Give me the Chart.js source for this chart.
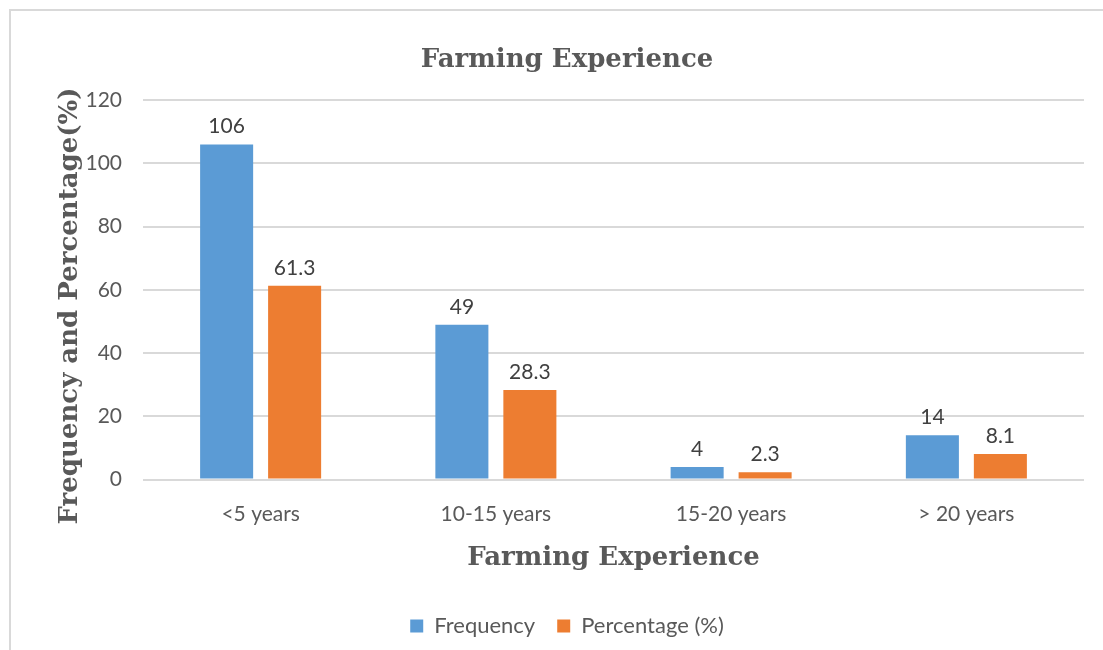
<!DOCTYPE html>
<html>
<head>
<meta charset="utf-8">
<title>Farming Experience</title>
<script src="https://cdn.jsdelivr.net/npm/chart.js@4.4.1/dist/chart.umd.min.js"></script>
<style>
  html, body { margin: 0; padding: 0; background: #fff; }
  #wrap { position: relative; width: 1103px; height: 650px; overflow: hidden; }
  #frame {
    position: absolute; left: 9px; top: 9px; width: 1100px; height: 650px;
    border-left: 2px solid #d9d9d9; border-top: 2px solid #d9d9d9;
    box-sizing: border-box; pointer-events: none;
  }
  canvas { position: absolute; left: 0; top: 0; }
</style>
</head>
<body>
<div id="wrap">
  <canvas id="chart" width="1103" height="650"></canvas>
  <div id="frame"></div>
</div>
<script>
// categories and series
const categories = ['<5 years', '10-15 years', '15-20 years', '> 20 years'];
const frequency = [106, 49, 4, 14];
const percentage = [61.3, 28.3, 2.3, 8.1];
const yTicks = [0, 20, 40, 60, 80, 100, 120];

const GREY = '#595959';
const SERIF = '"DejaVu Serif", serif';
const SANS = 'Lato, "Open Sans", sans-serif';

// value labels above each bar
const valueLabels = {
  id: 'valueLabels',
  afterDatasetsDraw(chart) {
    const ctx = chart.ctx;
    ctx.save();
    ctx.font = '21px ' + SANS;
    ctx.fillStyle = '#404040';
    ctx.textAlign = 'center';
    ctx.textBaseline = 'alphabetic';
    chart.data.datasets.forEach((ds, i) => {
      chart.getDatasetMeta(i).data.forEach((bar, j) => {
        ctx.fillText(String(ds.data[j]), bar.x, bar.y - 11);
      });
    });
    ctx.restore();
  }
};

// rotated y axis title, sitting over the tick labels
const yTitle = {
  id: 'yTitle',
  afterDraw(chart) {
    const ctx = chart.ctx;
    const area = chart.chartArea;
    ctx.save();
    ctx.translate(70, (area.top + area.bottom) / 2 + 16);
    ctx.rotate(-Math.PI / 2);
    ctx.font = 'bold 26px ' + SERIF;
    ctx.fillStyle = GREY;
    ctx.textAlign = 'center';
    ctx.textBaseline = 'middle';
    ctx.fillText('Frequency and Percentage(%)', 0, 0);
    ctx.restore();
  }
};

new Chart(document.getElementById('chart'), {
  type: 'bar',
  data: {
    labels: categories,
    datasets: [
      { label: 'Frequency', data: frequency, backgroundColor: '#5B9BD5' },
      { label: 'Percentage (%)', data: percentage, backgroundColor: '#ED7D31' }
    ]
  },
  options: {
    responsive: false,
    animation: false,
    devicePixelRatio: 1,
    categoryPercentage: 0.578,
    barPercentage: 0.78,
    layout: { padding: { left: 50, right: 19, top: 0, bottom: 3 } },
    plugins: {
      title: {
        display: true,
        text: 'Farming Experience',
        color: GREY,
        font: { family: SERIF, size: 26, weight: 'bold' },
        padding: { top: 45, bottom: 24 }
      },
      legend: {
        position: 'bottom',
        labels: {
          color: GREY,
          font: { family: SANS, size: 22 },
          boxWidth: 13,
          boxHeight: 13,
          padding: 22
        }
      },
      tooltip: { enabled: false }
    },
    scales: {
      x: {
        grid: { display: false },
        border: { display: false },
        ticks: { color: GREY, font: { family: SANS, size: 21 }, padding: 14 },
        title: {
          display: true,
          text: 'Farming Experience',
          color: GREY,
          font: { family: SERIF, size: 26, weight: 'bold' },
          padding: { top: 2, bottom: 19 }
        }
      },
      y: {
        min: 0,
        max: 120,
        afterBuildTicks(scale) { scale.ticks = yTicks.map(v => ({ value: v })); },
        afterFit(scale) { scale.width = 93; },
        grid: { color: '#d9d9d9', lineWidth: 2, drawTicks: false },
        border: { display: false },
        ticks: { color: GREY, font: { family: SANS, size: 21 }, padding: 21 }
      }
    }
  },
  plugins: [valueLabels, yTitle]
});
</script>
</body>
</html>
